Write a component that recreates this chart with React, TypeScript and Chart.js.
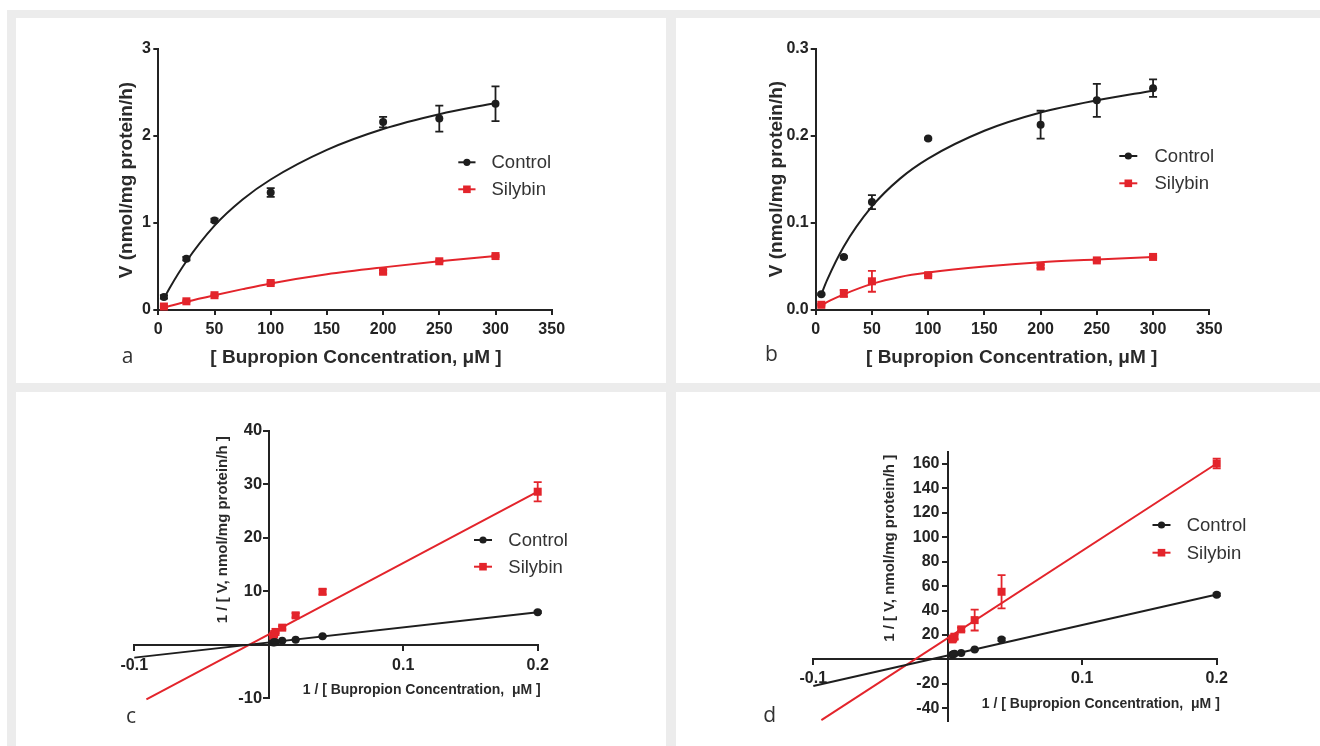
import React, { useEffect, useRef } from 'react';
import { Chart, registerables } from 'chart.js';

Chart.register(...registerables);

// ---------------- DATA ----------------
const seriesNames = ['Control', 'Silybin'];

// Panels a, b : Michaelis-Menten plots
const concentrations = [5, 25, 50, 100, 200, 250, 300];
const fitConcentrations = [5, 10, 25, 50, 75, 100, 150, 200, 250, 300];

const aControl = [0.15, 0.59, 1.03, 1.35, 2.16, 2.2, 2.37];
const aControlErr = [0.02, 0.02, 0.02, 0.05, 0.06, 0.15, 0.2];
const aSilybin = [0.04, 0.1, 0.17, 0.31, 0.44, 0.56, 0.62];
const aSilybinErr = [0.01, 0.01, 0.01, 0.01, 0.02, 0.01, 0.01];
const aControlFit = [0.13, 0.25, 0.56, 0.97, 1.27, 1.5, 1.84, 2.08, 2.25, 2.38];
const aSilybinFit = [0.025, 0.045, 0.095, 0.17, 0.24, 0.305, 0.41, 0.49, 0.56, 0.62];

const bControl = [0.018, 0.061, 0.124, 0.197, 0.213, 0.241, 0.255];
const bControlErr = [0.001, 0.001, 0.008, 0.001, 0.016, 0.019, 0.01];
const bSilybin = [0.006, 0.019, 0.033, 0.04, 0.05, 0.057, 0.061];
const bSilybinErr = [0.001, 0.004, 0.012, 0.001, 0.002, 0.001, 0.001];
const bControlFit = [0.018, 0.034, 0.073, 0.119, 0.151, 0.174, 0.206, 0.227, 0.241, 0.252];
const bSilybinFit = [0.005, 0.009, 0.018, 0.03, 0.038, 0.043, 0.05, 0.055, 0.058, 0.061];

// Panels c, d : Lineweaver-Burk plots
const invConcentrations = [0.00333, 0.004, 0.005, 0.01, 0.02, 0.04, 0.2];

const cControl = [0.42, 0.45, 0.46, 0.74, 0.95, 1.6, 6.1];
const cControlErr = [0.02, 0.02, 0.02, 0.05, 0.05, 0.1, 0.2];
const cSilybin = [1.7, 2.0, 2.4, 3.2, 5.5, 9.9, 28.6];
const cSilybinErr = [0.1, 0.1, 0.2, 0.3, 0.4, 0.5, 1.8];
const cLineX = [-0.1, 0.2];
const cControlLine = [-2.4, 6.1];
const cSilybinLineX = [-0.091, 0.2];
const cSilybinLine = [-10.2, 28.6];

const dControl = [3.9, 4.2, 4.7, 5.3, 8.2, 16.4, 53];
const dControlErr = [0.2, 0.2, 0.3, 0.3, 0.5, 1, 1];
const dSilybin = [16.4, 17.2, 18.6, 24.6, 32.2, 55.4, 160.4];
const dSilybinErr = [1, 1, 2, 1.5, 8.5, 13.6, 4];
const dLineX = [-0.1, 0.2];
const dControlLine = [-21.8, 53.2];
const dSilybinLineX = [-0.094, 0.2];
const dSilybinLine = [-49.7, 160.4];

// tick values
const abXTicks = [0, 50, 100, 150, 200, 250, 300, 350];
const aYTicks = [0, 1, 2, 3];
const bYTicks = [0, 0.1, 0.2, 0.3];
const cdXTicks = [-0.1, 0, 0.1, 0.2];
const cYTicks = [-10, 0, 10, 20, 30, 40];
const dYTicks = [-40, -20, 0, 20, 40, 60, 80, 100, 120, 140, 160];

// ---------------- STYLE ----------------
const FONT = '"Liberation Sans", Arial, Helvetica, sans-serif';
const BLACK = '#1e1e1e';
const RED = '#e3242b';
const AXIS = '#232323';
const TEXT = '#2a2a2a';
const TICK_LEN = 5;

const pts = (xs: number[], ys: number[]) => xs.map((x, i) => ({ x, y: ys[i] }));

type TextSpec = {
  text: string; x: number; y: number; font: string; color?: string;
  align?: CanvasTextAlign; baseline?: CanvasTextBaseline; rotate?: number;
};
type LegendSpec = { x1: number; x2: number; tx: number; ys: number[] };

function drawMarker(ctx: CanvasRenderingContext2D, kind: number, x: number, y: number) {
  ctx.fillStyle = kind === 0 ? BLACK : RED;
  if (kind === 0) {
    ctx.beginPath();
    ctx.arc(x, y, 3.6, 0, Math.PI * 2);
    ctx.fill();
  } else {
    ctx.fillRect(x - 3.8, y - 3.8, 7.6, 7.6);
  }
}

function decorPlugin(texts: TextSpec[], legend: LegendSpec) {
  return {
    id: 'decor',
    beforeDraw(chart: any) {
      // y axes placed at x = 0: put their labels outside the tick marks
      const ys = chart.scales.y;
      const pos = ys.options.position;
      if (pos && typeof pos === 'object') {
        const items = ys.getLabelItems();
        if (!items._shifted) {
          const shift = TICK_LEN + ys.options.ticks.padding;
          items.forEach((it: any) => { it.options.translation[0] -= shift; });
          items._shifted = true;
        }
      }
    },
    afterDatasetsDraw(chart: any) {
      const ctx: CanvasRenderingContext2D = chart.ctx;
      const xs = chart.scales.x;
      const ys = chart.scales.y;
      chart.data.datasets.forEach((ds: any) => {
        const errs: number[] | undefined = ds.errors;
        if (!errs) return;
        ctx.save();
        ctx.strokeStyle = ds.borderColor;
        ctx.lineWidth = 1.8;
        ds.data.forEach((p: any, i: number) => {
          const e = errs[i];
          if (!e) return;
          const px = xs.getPixelForValue(p.x);
          const top = ys.getPixelForValue(p.y + e);
          const bot = ys.getPixelForValue(p.y - e);
          ctx.beginPath();
          ctx.moveTo(px, top); ctx.lineTo(px, bot);
          ctx.moveTo(px - 4, top); ctx.lineTo(px + 4, top);
          ctx.moveTo(px - 4, bot); ctx.lineTo(px + 4, bot);
          ctx.stroke();
        });
        ctx.restore();
      });
    },
    afterDraw(chart: any) {
      const ctx: CanvasRenderingContext2D = chart.ctx;
      texts.forEach((t) => {
        ctx.save();
        ctx.font = t.font;
        ctx.fillStyle = t.color || TEXT;
        ctx.textAlign = t.align || 'center';
        ctx.textBaseline = t.baseline || 'middle';
        ctx.translate(t.x, t.y);
        if (t.rotate) ctx.rotate(t.rotate);
        ctx.fillText(t.text, 0, 0);
        ctx.restore();
      });
      seriesNames.forEach((name, i) => {
        const y = legend.ys[i];
        ctx.save();
        ctx.strokeStyle = i === 0 ? BLACK : RED;
        ctx.lineWidth = 2;
        ctx.beginPath();
        ctx.moveTo(legend.x1, y);
        ctx.lineTo(legend.x2, y);
        ctx.stroke();
        drawMarker(ctx, i, (legend.x1 + legend.x2) / 2, y);
        ctx.font = `18.5px ${FONT}`;
        ctx.fillStyle = '#333';
        ctx.textAlign = 'left';
        ctx.textBaseline = 'middle';
        ctx.fillText(name, legend.tx, y + 1);
        ctx.restore();
      });
    },
  };
}

function makeAxis(opts: {
  min: number; max: number; ticks: number[]; fmt: (v: number) => string;
  size: number; pad: number; position: any; boxSize: number;
}) {
  return {
    type: 'linear',
    min: opts.min,
    max: opts.max,
    position: opts.position,
    afterBuildTicks: (s: any) => { s.ticks = opts.ticks.map((v) => ({ value: v })); },
    afterFit: (s: any) => { if (s.isHorizontal()) s.height = opts.boxSize; else s.width = opts.boxSize; },
    ticks: {
      font: { family: FONT, size: opts.size, weight: 'bold' },
      color: AXIS,
      padding: opts.pad,
      autoSkip: false,
      maxRotation: 0,
      minRotation: 0,
      callback: (v: any) => opts.fmt(Number(v)),
    },
    grid: {
      display: true,
      drawOnChartArea: false,
      drawTicks: true,
      tickLength: TICK_LEN,
      tickWidth: 2,
      tickColor: AXIS,
      color: AXIS,
      lineWidth: 2,
    },
    border: { display: true, color: AXIS, width: 2 },
  };
}

function lineDs(data: any[], color: string, curved: boolean) {
  return {
    type: 'line',
    data,
    borderColor: color,
    backgroundColor: color,
    borderWidth: 2,
    pointRadius: 0,
    fill: false,
    tension: 0,
    cubicInterpolationMode: curved ? 'monotone' : 'default',
    order: 2,
    clip: false,
  };
}

function pointDs(label: string, data: any[], errors: number[], kind: number) {
  const color = kind === 0 ? BLACK : RED;
  return {
    type: 'scatter',
    label,
    data,
    errors,
    pointStyle: kind === 0 ? 'circle' : 'rect',
    pointRadius: kind === 0 ? 4 : 5.66,
    backgroundColor: color,
    borderColor: color,
    borderWidth: 0,
    showLine: false,
    order: 1,
    clip: false,
  };
}

function makeConfig(p: {
  padding: any; x: any; y: any; datasets: any[]; texts: TextSpec[]; legend: LegendSpec;
}) {
  return {
    type: 'scatter',
    data: { datasets: p.datasets },
    options: {
      animation: false,
      responsive: false,
      maintainAspectRatio: false,
      devicePixelRatio: 1,
      layout: { padding: p.padding },
      plugins: { legend: { display: false }, tooltip: { enabled: false } },
      events: [],
      scales: { x: p.x, y: p.y },
    },
    plugins: [decorPlugin(p.texts, p.legend)],
  } as any;
}

const titleFontBig = `bold 19px ${FONT}`;
const titleFontSmallY = `bold 15px ${FONT}`;
const titleFontSmallX = `bold 14px ${FONT}`;
const letterFont = `21px "Open Sans", "DejaVu Sans", sans-serif`;
const fmtInt = (v: number) => String(v);
const fmt1 = (v: number) => v.toFixed(1);
const fmtNoZero = (v: number) => (Math.abs(v) < 1e-9 ? '' : String(v));

const buildA = () => makeConfig({
  padding: { left: 90, right: 114.3, top: 31, bottom: 10 },
  x: makeAxis({ min: 0, max: 350, ticks: abXTicks, fmt: fmtInt, size: 16, pad: 4.5, position: 'bottom', boxSize: 63 }),
  y: makeAxis({ min: 0, max: 3, ticks: aYTicks, fmt: fmtInt, size: 16, pad: 2.5, position: 'left', boxSize: 52.3 }),
  datasets: [
    pointDs(seriesNames[0], pts(concentrations, aControl), aControlErr, 0),
    pointDs(seriesNames[1], pts(concentrations, aSilybin), aSilybinErr, 1),
    lineDs(pts(fitConcentrations, aControlFit), BLACK, true),
    lineDs(pts(fitConcentrations, aSilybinFit), RED, true),
  ],
  texts: [
    { text: 'V (nmol/mg protein/h)', x: 111, y: 162, font: titleFontBig, rotate: -Math.PI / 2 },
    { text: '[ Bupropion Concentration, \u03bcM ]', x: 340, y: 340, font: titleFontBig },
    { text: 'a', x: 105.7, y: 345.3, font: letterFont, align: 'left', baseline: 'alphabetic', color: '#333' },
  ],
  legend: { x1: 442.3, x2: 459.5, tx: 475.5, ys: [144.3, 171.3] },
});

const buildB = () => makeConfig({
  padding: { left: 90, right: 110.7, top: 31, bottom: 10 },
  x: makeAxis({ min: 0, max: 350, ticks: abXTicks, fmt: fmtInt, size: 16, pad: 4.5, position: 'bottom', boxSize: 63 }),
  y: makeAxis({ min: 0, max: 0.3, ticks: bYTicks, fmt: fmt1, size: 16, pad: 2, position: 'left', boxSize: 49.7 }),
  datasets: [
    pointDs(seriesNames[0], pts(concentrations, bControl), bControlErr, 0),
    pointDs(seriesNames[1], pts(concentrations, bSilybin), bSilybinErr, 1),
    lineDs(pts(fitConcentrations, bControlFit), BLACK, true),
    lineDs(pts(fitConcentrations, bSilybinFit), RED, true),
  ],
  texts: [
    { text: 'V (nmol/mg protein/h)', x: 100.7, y: 161, font: titleFontBig, rotate: -Math.PI / 2 },
    { text: '[ Bupropion Concentration, \u03bcM ]', x: 335.7, y: 340, font: titleFontBig },
    { text: 'b', x: 89, y: 343, font: letterFont, align: 'left', baseline: 'alphabetic', color: '#333' },
  ],
  legend: { x1: 443.3, x2: 461.3, tx: 478.5, ys: [138, 165.3] },
});

const buildC = () => makeConfig({
  padding: { left: 118.3, right: 128.3, top: 38.7, bottom: 47.7 },
  x: makeAxis({ min: -0.1, max: 0.2, ticks: cdXTicks, fmt: fmtNoZero, size: 16, pad: 6.5, position: { y: 0 }, boxSize: 0 }),
  y: makeAxis({ min: -10, max: 40, ticks: cYTicks, fmt: fmtNoZero, size: 16.5, pad: 1.7, position: { x: 0 }, boxSize: 0 }),
  datasets: [
    pointDs(seriesNames[0], pts(invConcentrations, cControl), cControlErr, 0),
    pointDs(seriesNames[1], pts(invConcentrations, cSilybin), cSilybinErr, 1),
    lineDs(pts(cLineX, cControlLine), BLACK, false),
    lineDs(pts(cSilybinLineX, cSilybinLine), RED, false),
  ],
  texts: [
    { text: '1 / [ V, nmol/mg protein/h ]', x: 207.3, y: 137.7, font: titleFontSmallY, rotate: -Math.PI / 2 },
    { text: '1 / [ Bupropion Concentration,  \u03bcM ]', x: 405.7, y: 298, font: titleFontSmallX },
    { text: 'c', x: 110, y: 331.3, font: letterFont, align: 'left', baseline: 'alphabetic', color: '#333' },
  ],
  legend: { x1: 458, x2: 476, tx: 492.3, ys: [148, 174.7] },
});

const buildD = () => makeConfig({
  padding: { left: 137.3, right: 103.3, top: 59.8, bottom: 25.5 },
  x: makeAxis({ min: -0.1, max: 0.2, ticks: cdXTicks, fmt: fmtNoZero, size: 16, pad: 4.4, position: { y: 0 }, boxSize: 0 }),
  y: makeAxis({ min: -50, max: 170, ticks: dYTicks, fmt: fmtNoZero, size: 16, pad: 3.3, position: { x: 0 }, boxSize: 0 }),
  datasets: [
    pointDs(seriesNames[0], pts(invConcentrations, dControl), dControlErr, 0),
    pointDs(seriesNames[1], pts(invConcentrations, dSilybin), dSilybinErr, 1),
    lineDs(pts(dLineX, dControlLine), BLACK, false),
    lineDs(pts(dSilybinLineX, dSilybinLine), RED, false),
  ],
  texts: [
    { text: '1 / [ V, nmol/mg protein/h ]', x: 214, y: 156.3, font: titleFontSmallY, rotate: -Math.PI / 2 },
    { text: '1 / [ Bupropion Concentration,  \u03bcM ]', x: 424.8, y: 312, font: titleFontSmallX },
    { text: 'd', x: 87.3, y: 329.7, font: letterFont, align: 'left', baseline: 'alphabetic', color: '#333' },
  ],
  legend: { x1: 476.5, x2: 494.5, tx: 510.7, ys: [133, 160.7] },
});

function Panel(props: { left: number; top: number; width: number; height: number; build: () => any }) {
  const ref = useRef<HTMLCanvasElement>(null);
  useEffect(() => {
    const chart = new Chart(ref.current as HTMLCanvasElement, props.build());
    return () => chart.destroy();
  }, []);
  return (
    <div style={{ position: 'absolute', left: props.left, top: props.top, width: props.width, height: props.height, background: '#ffffff' }}>
      <canvas ref={ref} width={props.width} height={props.height} style={{ display: 'block', width: props.width, height: props.height }} />
    </div>
  );
}

export default function App() {
  return (
    <div style={{ position: 'absolute', left: 0, top: 0, width: 1320, height: 746, background: '#ffffff', overflow: 'hidden' }}>
      <div style={{ position: 'absolute', left: 7, top: 10, width: 1313, height: 736, background: '#ececec' }} />
      <Panel left={16} top={18} width={650} height={365} build={buildA} />
      <Panel left={676} top={18} width={644} height={365} build={buildB} />
      <Panel left={16} top={392} width={650} height={354} build={buildC} />
      <Panel left={676} top={392} width={644} height={354} build={buildD} />
    </div>
  );
}
